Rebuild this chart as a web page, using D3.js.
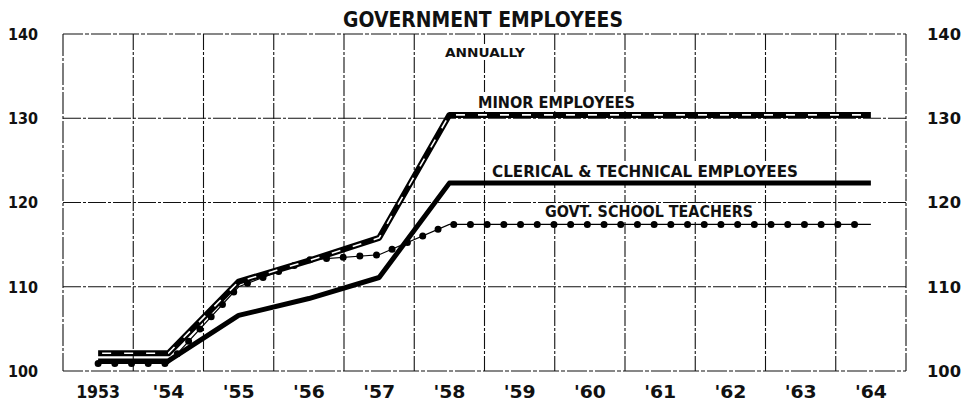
<!DOCTYPE html>
<html lang="en">
<head>
	<meta charset="utf-8" />
	<title>Government Employees</title>
	<script src="https://cdn.jsdelivr.net/npm/d3@7"></script>
	<style>
		body { margin: 0; background: #fff; }
		text { font-family: "DejaVu Sans", sans-serif; font-weight: bold; fill: #111; }
	</style>
</head>
<body>
<script>
	// annual index values
	var years = ['1953', '1954', '1955', '1956', '1957', '1958', '1959', '1960', '1961', '1962', '1963', '1964'];
	var yearLabels = ['1953', "'54", "'55", "'56", "'57", "'58", "'59", "'60", "'61", "'62", "'63", "'64"];
	var minorEmployees = [102.1, 102.1, 110.6, 113.1, 115.8, 130.4, 130.4, 130.4, 130.4, 130.4, 130.4, 130.4];
	var clericalTechnical = [101.2, 101.2, 106.6, 108.6, 111.1, 122.3, 122.3, 122.3, 122.3, 122.3, 122.3, 122.3];
	var schoolTeachers = [100.9, 100.9, 110.0, 113.2, 113.8, 117.4, 117.4, 117.4, 117.4, 117.4, 117.4, 117.4];
	var yTicks = [100, 110, 120, 130, 140];

	var W = 979, H = 402;
	var svg = d3.select('body').append('svg').attr('width', W).attr('height', H);

	var x = d3.scaleBand().domain(years).range([63, 906]).padding(0);
	var y = d3.scaleLinear().domain([100, 140]).range([371, 34]);
	var cx = function(d, i) { return x(years[i]) + x.bandwidth() / 2; };

	// grid
	var grid = svg.append('g').attr('stroke', '#111').attr('stroke-width', 1.1).attr('fill', 'none');
	var bounds = years.map(function(d) { return x(d); }).concat([x.range()[1]]);
	grid.selectAll('line.v').data(bounds).enter().append('line')
		.attr('x1', function(d) { return d; }).attr('x2', function(d) { return d; })
		.attr('y1', y(140)).attr('y2', y(100))
		.attr('stroke-dasharray', function(d, i) { return (i === 0 || i === bounds.length - 1) ? '22,2,3,2' : '16,2,3,2'; });
	grid.selectAll('line.h').data(yTicks).enter().append('line')
		.attr('x1', x.range()[0]).attr('x2', x.range()[1])
		.attr('y1', function(d) { return y(d); }).attr('y2', function(d) { return y(d); })
		.attr('stroke-dasharray', function(d) { return (d === 100 || d === 140) ? '20,2,4,2' : '18,2,3,2'; });

	// white patches behind the labels
	var patches = [[443, 44, 85, 16], [476, 92, 164, 19], [490, 161, 312, 20], [532, 203, 229, 19]];
	svg.selectAll('rect.patch').data(patches).enter().append('rect')
		.attr('x', function(d) { return d[0]; }).attr('y', function(d) { return d[1]; })
		.attr('width', function(d) { return d[2]; }).attr('height', function(d) { return d[3]; })
		.attr('fill', '#fff');

	var line = d3.line().x(cx).y(function(d) { return y(d); });

	// clerical & technical: heavy solid
	svg.append('path').datum(clericalTechnical).attr('d', line)
		.attr('fill', 'none').attr('stroke', '#000').attr('stroke-width', 5).attr('stroke-linejoin', 'round');

	// govt school teachers: thin line with dots
	svg.append('path').datum(schoolTeachers).attr('d', line)
		.attr('fill', 'none').attr('stroke', '#000').attr('stroke-width', 1.2);
	svg.append('path').datum(schoolTeachers).attr('d', line)
		.attr('fill', 'none').attr('stroke', '#000').attr('stroke-width', 7)
		.attr('stroke-linecap', 'round').attr('stroke-dasharray', '0,16.7');

	// minor employees: heavy line with white dashes inside
	svg.append('path').datum(minorEmployees).attr('d', line)
		.attr('fill', 'none').attr('stroke', '#000').attr('stroke-width', 6).attr('stroke-linejoin', 'round');
	svg.append('path').datum(minorEmployees).attr('d', line)
		.attr('fill', 'none').attr('stroke', '#fff').attr('stroke-width', 1.6)
		.attr('stroke-dasharray', '9,13').attr('stroke-dashoffset', -4);

	// axis labels
	svg.selectAll('text.yl').data(yTicks).enter().append('text')
		.attr('x', 38).attr('y', function(d) { return y(d); }).attr('dy', '0.36em')
		.attr('text-anchor', 'end').attr('font-size', 16)
		.attr('textLength', 30).attr('lengthAdjust', 'spacingAndGlyphs')
		.text(function(d) { return d; });
	svg.selectAll('text.yr').data(yTicks).enter().append('text')
		.attr('x', 927).attr('y', function(d) { return y(d); }).attr('dy', '0.36em')
		.attr('text-anchor', 'start').attr('font-size', 16)
		.attr('textLength', 34).attr('lengthAdjust', 'spacingAndGlyphs')
		.text(function(d) { return d; });
	svg.selectAll('text.xl').data(yearLabels).enter().append('text')
		.attr('x', cx).attr('y', 398)
		.attr('text-anchor', 'middle').attr('font-size', 18).attr('textLength', function(d) { return d.length === 4 ? 44 : 32; })
		.attr('lengthAdjust', 'spacingAndGlyphs')
		.text(function(d) { return d; });

	// titles and series labels
	var labels = [
		['GOVERNMENT EMPLOYEES', 343, 27, 21, 280],
		['ANNUALLY', 445, 57, 12, 80],
		['MINOR EMPLOYEES', 478, 108, 16, 157],
		['CLERICAL & TECHNICAL EMPLOYEES', 492, 177, 16.5, 306],
		['GOVT. SCHOOL TEACHERS', 545, 217, 16.5, 208]
	];
	svg.selectAll('text.lab').data(labels).enter().append('text')
		.attr('x', function(d) { return d[1]; }).attr('y', function(d) { return d[2]; })
		.attr('font-size', function(d) { return d[3]; })
		.attr('textLength', function(d) { return d[4]; }).attr('lengthAdjust', 'spacingAndGlyphs')
		.text(function(d) { return d[0]; });
</script>
</body>
</html>
